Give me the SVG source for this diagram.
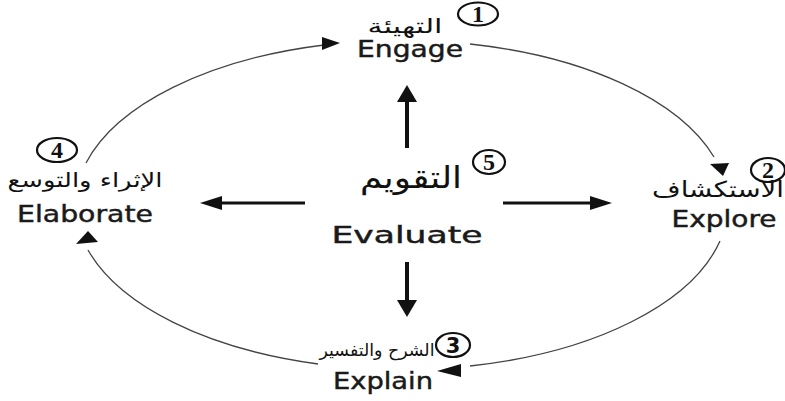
<svg xmlns="http://www.w3.org/2000/svg" width="785" height="401" viewBox="0 0 785 401">
<style>
.num{fill:none;stroke:#111;stroke-width:2.2}
.digit{font-family:"Liberation Serif",serif;font-weight:bold;font-size:24px;fill:#111;text-anchor:middle}
.ar{font-family:"DejaVu Sans",sans-serif;fill:#111;text-anchor:middle}
.en{font-family:"DejaVu Sans",sans-serif;font-size:23px;fill:#1a1a1a;stroke:#1a1a1a;stroke-width:0.45;text-anchor:middle}
.arc{fill:none;stroke:#444;stroke-width:1.3}
.head{fill:#111}
.shaft{stroke:#111;fill:none}
</style>
<rect width="785" height="401" fill="#fff"/>
<g id="connectors">
  <path class="arc" d="M 86 163 A 326 165 0 0 1 324 45"/>
  <polygon class="head" points="322,37 340,43 322,50"/>
  <path class="arc" d="M 470 44 A 326 165 0 0 1 714 157"/>
  <polygon class="head" points="710,164 729,163 723,176"/>
  <path class="arc" d="M 720 241 A 326 165 0 0 1 470 366"/>
  <polygon class="head" points="437,371 461,364 461,377"/>
  <path class="arc" d="M 318 364 A 326 165 0 0 1 88 250"/>
  <polygon class="head" points="88,231 76,244 98,242"/>
  <line class="shaft" x1="407" y1="148" x2="407" y2="100" stroke-width="4"/>
  <polygon class="head" points="407,85 397,102 417,102"/>
  <line class="shaft" x1="407" y1="262" x2="407" y2="300" stroke-width="4"/>
  <polygon class="head" points="407,317 397,300 417,300"/>
  <line class="shaft" x1="305" y1="203" x2="218" y2="203" stroke-width="3"/>
  <polygon class="head" points="200,203 222,196 222,210"/>
  <line class="shaft" x1="503" y1="203" x2="592" y2="203" stroke-width="3"/>
  <polygon class="head" points="612,203 590,196 590,210"/>
</g>
<g id="engage">
  <ellipse class="num" cx="478" cy="14" rx="20" ry="11.5"/>
  <text class="digit" x="478" y="22">1</text>
  <text class="ar" x="405" y="33" font-size="20" textLength="75" lengthAdjust="spacingAndGlyphs">التهيئة</text>
  <text class="en" x="410" y="57" textLength="106" lengthAdjust="spacingAndGlyphs">Engage</text>
</g>
<g id="explore">
  <ellipse class="num" cx="768" cy="170" rx="17" ry="12"/>
  <text class="digit" x="768" y="178">2</text>
  <text class="ar" x="718" y="197" font-size="22" textLength="132" lengthAdjust="spacingAndGlyphs">الاستكشاف</text>
  <text class="en" x="724" y="227" textLength="105" lengthAdjust="spacingAndGlyphs">Explore</text>
</g>
<g id="explain">
  <ellipse class="num" cx="453" cy="345" rx="17" ry="12"/>
  <text x="453" y="353" style="font-family:'DejaVu Sans',sans-serif;font-weight:bold;font-size:21px;fill:#111;text-anchor:middle">3</text>
  <text class="ar" x="377" y="356" font-size="17" textLength="115" lengthAdjust="spacingAndGlyphs">الشرح والتفسير</text>
  <text class="en" x="383" y="389" textLength="100" lengthAdjust="spacingAndGlyphs">Explain</text>
</g>
<g id="elaborate">
  <ellipse class="num" cx="57" cy="150" rx="20" ry="12"/>
  <text class="digit" x="57" y="158">4</text>
  <text class="ar" x="85" y="187" font-size="20" textLength="155" lengthAdjust="spacingAndGlyphs">الإثراء والتوسع</text>
  <text class="en" x="85" y="222" textLength="136" lengthAdjust="spacingAndGlyphs">Elaborate</text>
</g>
<g id="evaluate">
  <ellipse class="num" cx="489" cy="162" rx="16" ry="12"/>
  <text class="digit" x="489" y="170">5</text>
  <text class="ar" x="411" y="188" font-size="30" textLength="102" lengthAdjust="spacingAndGlyphs">التقويم</text>
  <text class="en" x="407" y="243" font-size="27" stroke-width="0.2" textLength="151" lengthAdjust="spacingAndGlyphs">Evaluate</text>
</g>
</svg>
